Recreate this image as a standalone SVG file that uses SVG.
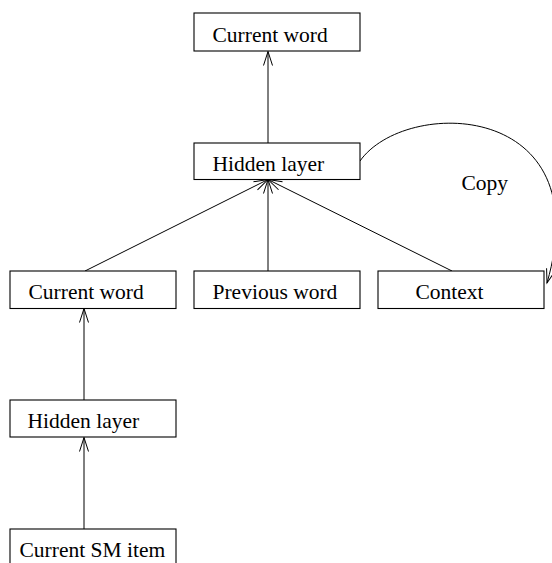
<svg xmlns="http://www.w3.org/2000/svg" width="552" height="563" viewBox="0 0 552 563">
  <style>
    .box { fill: #ffffff; stroke: #000000; stroke-width: 1.1; }
    .label { font-family: "Liberation Serif", "Times New Roman", serif; font-size: 21.5px; fill: #000000; }
    .edge { fill: none; stroke: #000000; stroke-width: 1; marker-end: url(#open); }
  </style>
  <defs>
    <marker id="open" markerUnits="userSpaceOnUse" markerWidth="20" markerHeight="12" refX="14" refY="4.5" orient="auto" overflow="visible">
      <path d="M0,0 L14,4.5 L0,9" fill="none" stroke="#000000" stroke-width="1"/>
    </marker>
  </defs>
  <rect width="552" height="563" fill="#ffffff"/>

  <!-- connectors -->
  <g id="connectors">
    <line class="edge" x1="268" y1="143" x2="268" y2="51.5"/>
    <line class="edge" x1="85" y1="271" x2="268" y2="179.5"/>
    <line class="edge" x1="268" y1="271" x2="268" y2="179.5"/>
    <line class="edge" x1="452" y1="271" x2="268" y2="179.5"/>
    <line class="edge" x1="84" y1="400" x2="84" y2="308.5"/>
    <line class="edge" x1="84" y1="529" x2="84" y2="437.5"/>
    <!-- recurrent copy loop from the upper hidden layer to the context units -->
    <path class="edge" d="M360,161 C405,97 600,100 547,283"/>
    <text class="label" x="461.5" y="190">Copy</text>
  </g>

  <!-- nodes -->
  <g id="out-word">
    <rect class="box" x="194" y="13" width="166" height="38"/>
    <text class="label" x="212.5" y="41.5">Current word</text>
  </g>
  <g id="hidden-top">
    <rect class="box" x="194" y="143" width="166" height="36.5"/>
    <text class="label" x="212.5" y="170.5">Hidden layer</text>
  </g>
  <g id="current-word">
    <rect class="box" x="10" y="271" width="166" height="37.5"/>
    <text class="label" x="28.5" y="299">Current word</text>
  </g>
  <g id="previous-word">
    <rect class="box" x="194" y="271" width="166" height="37.5"/>
    <text class="label" x="212.5" y="299">Previous word</text>
  </g>
  <g id="context">
    <rect class="box" x="378" y="271" width="166" height="37.5"/>
    <text class="label" x="415.5" y="299">Context</text>
  </g>
  <g id="hidden-bottom">
    <rect class="box" x="10" y="400" width="166" height="37"/>
    <text class="label" x="27.5" y="428">Hidden layer</text>
  </g>
  <g id="sm-item">
    <rect class="box" x="10" y="529" width="166" height="40"/>
    <text class="label" x="19.5" y="557">Current SM item</text>
  </g>
</svg>
